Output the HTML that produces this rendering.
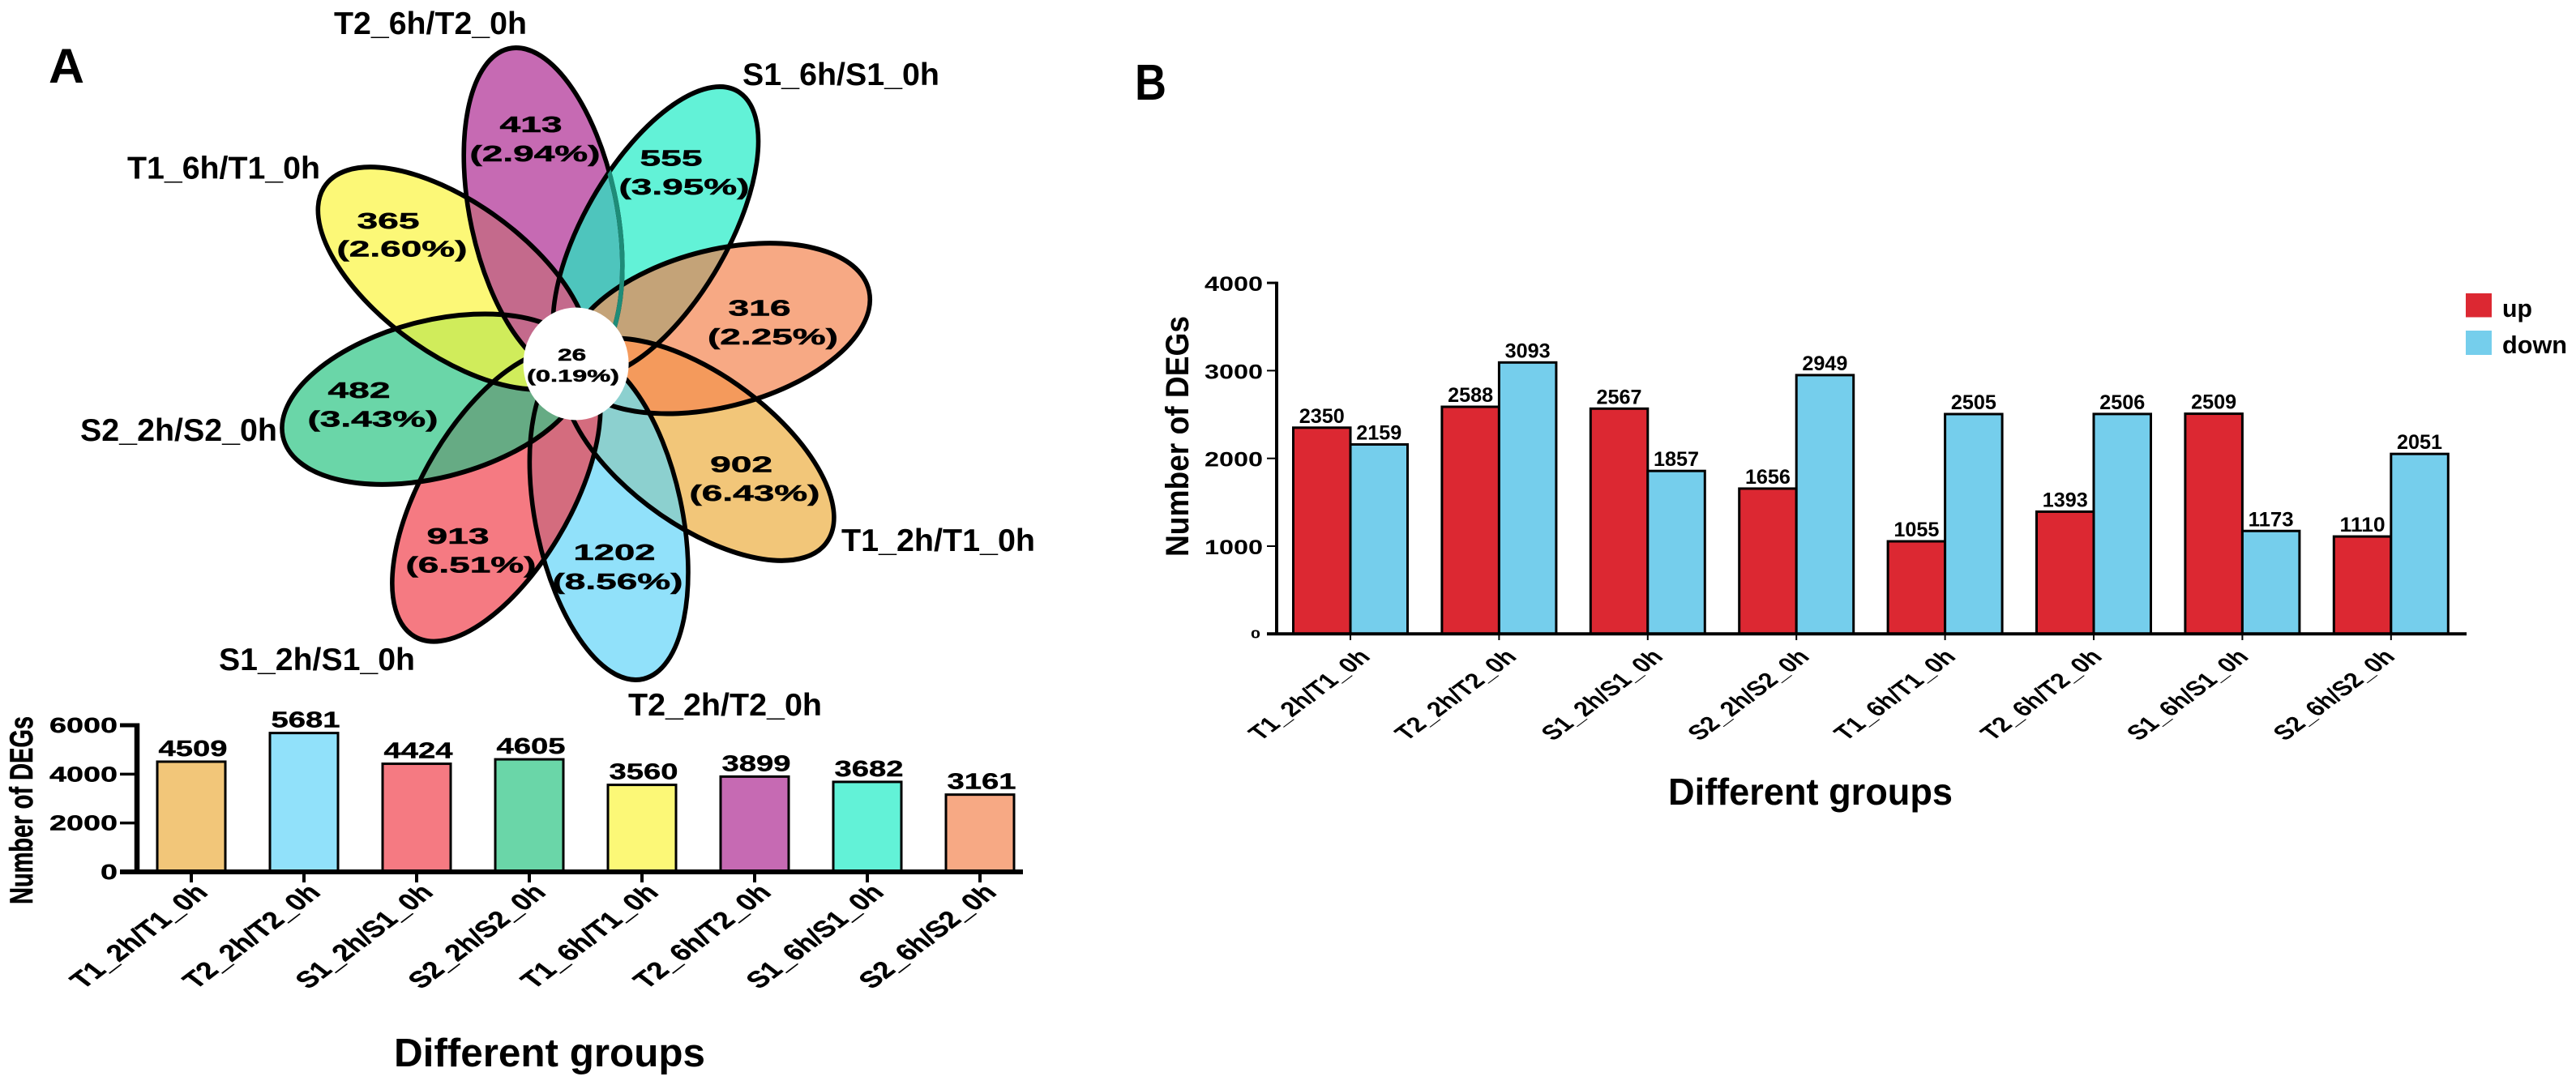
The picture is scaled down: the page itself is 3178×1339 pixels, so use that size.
<!DOCTYPE html>
<html lang="en">
<head>
<meta charset="utf-8">
<title>DEG flower plot and bar charts</title>
<style>
html,body{margin:0;padding:0;background:#fff;}
svg{display:block;}
text{font-family:"Liberation Sans",Arial,sans-serif;fill:#000;}
.b{font-weight:bold;}
.vl{font-weight:bold;font-size:39px;}
.vn{font-weight:bold;font-size:28px;text-anchor:middle;stroke:#000;stroke-width:.5px;}
.vs{font-size:21px;}
</style>
</head>
<body>
<svg id="figure" xmlns="http://www.w3.org/2000/svg" width="3178" height="1339" viewBox="0 0 3178 1339">
<defs>
<ellipse id="p0" cx="0" cy="-194" rx="97" ry="205" transform="translate(710.6 449) scale(.93 1) rotate(-13)"/>
<ellipse id="p1" cx="0" cy="-194" rx="93" ry="205" transform="translate(710.6 449) scale(.93 1) rotate(33)"/>
<ellipse id="p2" cx="0" cy="-194" rx="97" ry="205" transform="translate(710.6 449) scale(.93 1) rotate(77)"/>
<ellipse id="p3" cx="0" cy="-194" rx="95" ry="205" transform="translate(710.6 449) scale(.93 1) rotate(123)"/>
<ellipse id="p4" cx="0" cy="-194" rx="97" ry="205" transform="translate(710.6 449) scale(.93 1) rotate(167)"/>
<ellipse id="p5" cx="0" cy="-194" rx="97" ry="205" transform="translate(710.6 449) scale(.93 1) rotate(213)"/>
<ellipse id="p6" cx="0" cy="-194" rx="97" ry="205" transform="translate(710.6 449) scale(.93 1) rotate(257)"/>
<ellipse id="p7" cx="0" cy="-194" rx="95" ry="205" transform="translate(710.6 449) scale(.93 1) rotate(303)"/>
<clipPath id="c0"><use href="#p0"/></clipPath>
<clipPath id="c1"><use href="#p1"/></clipPath>
<clipPath id="c2"><use href="#p2"/></clipPath>
<clipPath id="c3"><use href="#p3"/></clipPath>
<clipPath id="c4"><use href="#p4"/></clipPath>
<clipPath id="c5"><use href="#p5"/></clipPath>
<clipPath id="c6"><use href="#p6"/></clipPath>
<clipPath id="c7"><use href="#p7"/></clipPath>
</defs>

<g id="panel-a">
<text class="b" x="60" y="102" font-size="60" textLength="44" lengthAdjust="spacingAndGlyphs">A</text>

<g>
<use href="#p0" fill="#C66AB3"/>
<use href="#p1" fill="#62F2D7"/>
<use href="#p2" fill="#F7A984"/>
<use href="#p3" fill="#F2C679"/>
<use href="#p4" fill="#91E1FA"/>
<use href="#p5" fill="#F57A82"/>
<use href="#p6" fill="#6AD6A8"/>
<use href="#p7" fill="#FCF877"/>
<g clip-path="url(#c1)"><use href="#p0" fill="#4EC5BD"/></g>
<g clip-path="url(#c2)"><use href="#p1" fill="#C4A378"/></g>
<g clip-path="url(#c3)"><use href="#p2" fill="#F49A5C"/></g>
<g clip-path="url(#c4)"><use href="#p3" fill="#8CD0CF"/></g>
<g clip-path="url(#c5)"><use href="#p4" fill="#D46C7E"/></g>
<g clip-path="url(#c6)"><use href="#p5" fill="#66AB84"/></g>
<g clip-path="url(#c7)"><use href="#p6" fill="#D0EC5B"/></g>
<g clip-path="url(#c0)"><use href="#p7" fill="#C46A8C"/></g>
<g fill="none" stroke="#000" stroke-width="6">
<use href="#p0"/><use href="#p1"/><use href="#p2"/><use href="#p3"/><use href="#p4"/><use href="#p5"/><use href="#p6"/><use href="#p7"/>
</g>
<g clip-path="url(#c1)"><use href="#p0" fill="none" stroke="#1E8C78" stroke-width="6"/></g>
<ellipse cx="710.6" cy="449" rx="65" ry="69.5" fill="#fff"/>

<text class="vl" x="412" y="42" textLength="238" lengthAdjust="spacingAndGlyphs">T2_6h/T2_0h</text>
<text class="vl" x="916" y="105" textLength="243" lengthAdjust="spacingAndGlyphs">S1_6h/S1_0h</text>
<text class="vl" x="157" y="220.5" textLength="238" lengthAdjust="spacingAndGlyphs">T1_6h/T1_0h</text>
<text class="vl" x="99" y="544" textLength="243" lengthAdjust="spacingAndGlyphs">S2_2h/S2_0h</text>
<text class="vl" x="1038" y="680" textLength="239" lengthAdjust="spacingAndGlyphs">T1_2h/T1_0h</text>
<text class="vl" x="270" y="827" textLength="242" lengthAdjust="spacingAndGlyphs">S1_2h/S1_0h</text>
<text class="vl" x="775" y="883" textLength="239" lengthAdjust="spacingAndGlyphs">T2_2h/T2_0h</text>

<text class="vn" x="655" y="163" textLength="77" lengthAdjust="spacingAndGlyphs">413</text>
<text class="vn" x="660" y="199" textLength="161" lengthAdjust="spacingAndGlyphs">(2.94%)</text>
<text class="vn" x="828" y="204.6" textLength="77" lengthAdjust="spacingAndGlyphs">555</text>
<text class="vn" x="844" y="240" textLength="161" lengthAdjust="spacingAndGlyphs">(3.95%)</text>
<text class="vn" x="479" y="282" textLength="77" lengthAdjust="spacingAndGlyphs">365</text>
<text class="vn" x="496" y="316.5" textLength="161" lengthAdjust="spacingAndGlyphs">(2.60%)</text>
<text class="vn" x="937" y="389.5" textLength="77" lengthAdjust="spacingAndGlyphs">316</text>
<text class="vn" x="953.5" y="425" textLength="161" lengthAdjust="spacingAndGlyphs">(2.25%)</text>
<text class="vn vs" x="705.6" y="445" textLength="35" lengthAdjust="spacingAndGlyphs">26</text>
<text class="vn vs" x="707" y="471" textLength="114" lengthAdjust="spacingAndGlyphs">(0.19%)</text>
<text class="vn" x="443" y="491" textLength="77" lengthAdjust="spacingAndGlyphs">482</text>
<text class="vn" x="460" y="526.6" textLength="161" lengthAdjust="spacingAndGlyphs">(3.43%)</text>
<text class="vn" x="914.6" y="582.5" textLength="77" lengthAdjust="spacingAndGlyphs">902</text>
<text class="vn" x="931" y="618" textLength="161" lengthAdjust="spacingAndGlyphs">(6.43%)</text>
<text class="vn" x="565" y="671" textLength="77" lengthAdjust="spacingAndGlyphs">913</text>
<text class="vn" x="581" y="706.5" textLength="161" lengthAdjust="spacingAndGlyphs">(6.51%)</text>
<text class="vn" x="758" y="691" textLength="101" lengthAdjust="spacingAndGlyphs">1202</text>
<text class="vn" x="762" y="727" textLength="161" lengthAdjust="spacingAndGlyphs">(8.56%)</text>
</g>

<g id="chart-a"></g>
<text class="b" transform="translate(40 1116) rotate(-90)" font-size="40" stroke="#000" stroke-width=".6" textLength="232" lengthAdjust="spacingAndGlyphs">Number of DEGs</text>
<text class="b" x="486" y="1316" font-size="49" textLength="384" lengthAdjust="spacingAndGlyphs">Different groups</text>
</g>

<g id="panel-b">
<text class="b" x="1400" y="123" font-size="62" textLength="39" lengthAdjust="spacingAndGlyphs">B</text>
<g id="chart-b"></g>
<text class="b" transform="translate(1466 687) rotate(-90)" font-size="40" textLength="297" lengthAdjust="spacingAndGlyphs">Number of DEGs</text>
<text class="b" x="2058" y="993" font-size="46" textLength="351" lengthAdjust="spacingAndGlyphs">Different groups</text>
<g>
<rect x="3042" y="362" width="32" height="29.5" fill="#DC2832"/>
<text class="b" x="3087" y="391" font-size="31" textLength="37" lengthAdjust="spacingAndGlyphs">up</text>
<rect x="3042" y="408" width="32" height="30" fill="#75CEEC"/>
<text class="b" x="3087" y="436" font-size="31" textLength="80" lengthAdjust="spacingAndGlyphs">down</text>
</g>
</g>
</svg>

<script>
// ---- chart data ----
const categories = ['T1_2h/T1_0h','T2_2h/T2_0h','S1_2h/S1_0h','S2_2h/S2_0h','T1_6h/T1_0h','T2_6h/T2_0h','S1_6h/S1_0h','S2_6h/S2_0h'];
const totalValues = [4509,5681,4424,4605,3560,3899,3682,3161];
const totalColors = ['#F2C679','#91E1FA','#F57A82','#6AD6A8','#FCF877','#C66AB3','#62F2D7','#F7A984'];
const totalTicks = [0,2000,4000,6000];
const upValues = [2350,2588,2567,1656,1055,1393,2509,1110];
const downValues = [2159,3093,1857,2949,2505,2506,1173,2051];
const updownTicks = [0,1000,2000,3000,4000];

const NS = 'http://www.w3.org/2000/svg';
function mk(parent, tag, attrs, txt){
  const e = document.createElementNS(NS, tag);
  for (const k in attrs) e.setAttribute(k, attrs[k]);
  if (txt !== undefined) e.textContent = txt;
  parent.appendChild(e);
  return e;
}
function line(parent, x1, y1, x2, y2, w){
  return mk(parent, 'line', {x1:x1, y1:y1, x2:x2, y2:y2, stroke:'#000', 'stroke-width':w});
}

// ---- chart A ----
const gA = document.getElementById('chart-a');
const aY = v => 1076 - v * (181 / 6000);
const aX = i => 236 + 139 * i;
const A_BAR = 84;

totalValues.forEach((v, i) => {
  const bar = mk(gA, 'rect', {x:aX(i)-A_BAR/2, y:aY(v), width:A_BAR, height:aY(0)-aY(v), fill:totalColors[i], stroke:'#000', 'stroke-width':3});
  
  
  const val = mk(gA, 'text', {x:aX(i)+2, y:aY(v)-7, 'font-size':28, 'font-weight':'bold', stroke:'#000', 'stroke-width':.4, 'text-anchor':'middle', textLength:85, lengthAdjust:'spacingAndGlyphs'}, v);
  
  
  const tick = line(gA, aX(i), aY(0), aX(i), 1089, 4);
  
  
  const lab = mk(gA, 'text', {transform:'translate('+(aX(i)+22)+' 1103) scale(1.31 1) rotate(-45)', 'font-size':29, 'font-weight':'bold', stroke:'#000', 'stroke-width':.4, 'text-anchor':'end', textLength:168, lengthAdjust:'spacingAndGlyphs'}, categories[i]);
  
  
});
totalTicks.forEach((t, n) => {
  const tk = line(gA, 148, aY(t), 168, aY(t), n === totalTicks.length - 1 ? 5 : 3.5);
  
  
  const w = String(t).length * 21;
  const tl = mk(gA, 'text', {x:145, y:aY(t)+9, 'font-size':26, 'font-weight':'bold', stroke:'#000', 'stroke-width':.4, 'text-anchor':'end', textLength:w, lengthAdjust:'spacingAndGlyphs'}, t);
  
  
});
const aYAxis = line(gA, 169, aY(6000)-2.5, 169, aY(0), 6.5);


const aXAxis = line(gA, 148, aY(0), 1262, aY(0), 6);



// ---- chart B ----
const gB = document.getElementById('chart-b');
const bY = v => 782.3 - v * 0.1083;
const bX = i => 1666 + 183.4 * i;
const bLabelEnd = i => 1692 + 180.6 * i;
const B_BAR = 70.5;

categories.forEach((c, i) => {
  const up = mk(gB, 'rect', {x:bX(i)-B_BAR, y:bY(upValues[i]), width:B_BAR, height:bY(0)-bY(upValues[i]), fill:'#DC2832', stroke:'#000', 'stroke-width':3});
  
  
  const down = mk(gB, 'rect', {x:bX(i), y:bY(downValues[i]), width:B_BAR, height:bY(0)-bY(downValues[i]), fill:'#75CEEC', stroke:'#000', 'stroke-width':3});
  
  
  const uv = mk(gB, 'text', {x:bX(i)-B_BAR/2, y:bY(upValues[i])-6, 'font-size':25, 'font-weight':'bold', 'text-anchor':'middle', textLength:56, lengthAdjust:'spacingAndGlyphs'}, upValues[i]);
  
  
  const dv = mk(gB, 'text', {x:bX(i)+B_BAR/2, y:bY(downValues[i])-6, 'font-size':25, 'font-weight':'bold', 'text-anchor':'middle', textLength:56, lengthAdjust:'spacingAndGlyphs'}, downValues[i]);
  
  
  const tick = line(gB, bX(i), bY(0), bX(i), 790, 2);
  
  
  const lab = mk(gB, 'text', {transform:'translate('+bLabelEnd(i)+' 812) scale(1.33 1) rotate(-45)', 'font-size':26, 'font-weight':'bold', 'text-anchor':'end', textLength:146, lengthAdjust:'spacingAndGlyphs'}, c);
  
  
});
updownTicks.forEach((t, n) => {
  const tk = line(gB, 1563, bY(t), 1575, bY(t), n === updownTicks.length - 1 ? 3 : 2);
  
  
  const isZero = t === 0;
  const tl = mk(gB, 'text', {x:isZero ? 1555 : 1558, y:isZero ? bY(t)+5 : bY(t)+10, 'font-size':isZero ? 15 : 25, 'font-weight':'bold', 'text-anchor':'end', textLength:isZero ? 12 : 72, lengthAdjust:'spacingAndGlyphs'}, t);
  
  
});
const bYAxis = line(gB, 1575, bY(4000)-1.5, 1575, bY(0), 4);


const bXAxis = line(gB, 1563, bY(0), 3043, bY(0), 4);


</script>
</body>
</html>
